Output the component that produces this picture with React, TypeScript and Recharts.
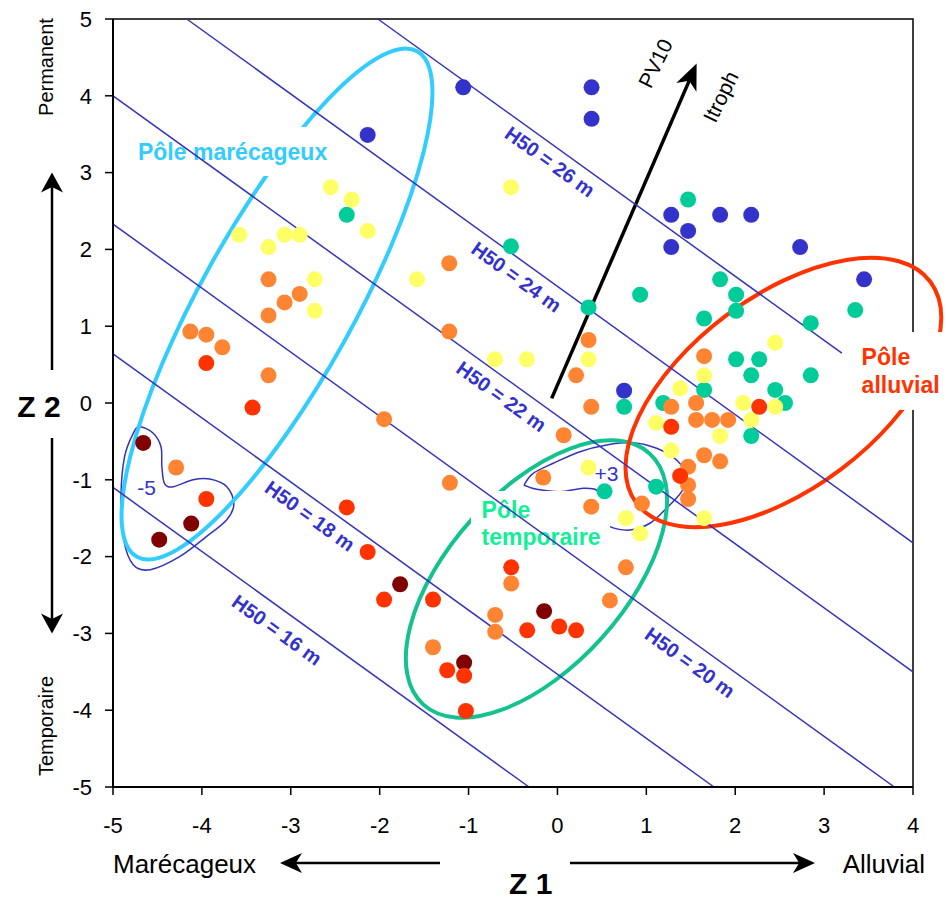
import * as RC from 'recharts';

const { ScatterChart, Scatter, XAxis, YAxis, ReferenceLine, Customized } = RC;

const FONT = '"Liberation Sans", Arial, Helvetica, sans-serif';
const W = 947;
const H = 904;
const MARGIN = { top: 19, right: 34, left: 0, bottom: 0 };
const Y_AXIS_W = 113;
const X_AXIS_H = 117;

const X_DOMAIN: [number, number] = [-5, 4];
const Y_DOMAIN: [number, number] = [-5, 5];
const xTicks = [-5, -4, -3, -2, -1, 0, 1, 2, 3, 4];
const yTicks = [-5, -4, -3, -2, -1, 0, 1, 2, 3, 4, 5];

const LINE_BLUE = '#3333BB';
const DOT_BLUE = '#3333CC';
const DOT_GREEN = '#00CC99';
const DOT_YELLOW = '#FFFF66';
const DOT_ORANGE = '#FF8533';
const DOT_RED = '#FF3300';
const DOT_DARKRED = '#800000';

const sitesBlue = [
  { x: -1.06, y: 4.11 }, { x: -2.135, y: 3.49 }, { x: 0.384, y: 4.11 }, { x: 0.384, y: 3.7 },
  { x: 1.28, y: 2.45 }, { x: 1.83, y: 2.45 }, { x: 2.18, y: 2.45 }, { x: 1.47, y: 2.24 },
  { x: 1.28, y: 2.03 }, { x: 2.73, y: 2.03 }, { x: 3.45, y: 1.61 }, { x: 0.75, y: 0.16 },
];
const sitesGreen = [
  { x: -2.37, y: 2.45 }, { x: -0.523, y: 2.04 }, { x: 1.47, y: 2.65 }, { x: 1.83, y: 1.61 },
  { x: 2.01, y: 1.41 }, { x: 0.93, y: 1.41 }, { x: 0.35, y: 1.245 }, { x: 2.01, y: 1.2 },
  { x: 1.65, y: 1.1 }, { x: 2.85, y: 1.04 }, { x: 3.35, y: 1.21 }, { x: 2.01, y: 0.57 },
  { x: 2.27, y: 0.57 }, { x: 2.18, y: 0.36 }, { x: 2.85, y: 0.36 }, { x: 1.65, y: 0.17 },
  { x: 2.45, y: 0.17 }, { x: 0.75, y: -0.05 }, { x: 2.56, y: 0.0 }, { x: 1.19, y: 0.0 },
  { x: 2.18, y: -0.43 }, { x: 1.11, y: -1.09 }, { x: 0.53, y: -1.15 },
];
const sitesYellow = [
  { x: -2.55, y: 2.81 }, { x: -2.315, y: 2.65 }, { x: -2.135, y: 2.24 }, { x: -3.58, y: 2.19 },
  { x: -3.07, y: 2.19 }, { x: -2.9, y: 2.19 }, { x: -3.25, y: 2.03 }, { x: -0.523, y: 2.81 },
  { x: -1.58, y: 1.61 }, { x: -2.73, y: 1.61 }, { x: -2.73, y: 1.2 }, { x: -0.703, y: 0.57 },
  { x: -0.345, y: 0.57 }, { x: 0.35, y: 0.57 }, { x: 2.45, y: 0.785 }, { x: 1.65, y: 0.36 },
  { x: 1.38, y: 0.19 }, { x: 2.09, y: 0.0 }, { x: 2.45, y: -0.05 }, { x: 1.11, y: -0.26 },
  { x: 2.18, y: -0.22 }, { x: 1.83, y: -0.43 }, { x: 1.28, y: -0.62 }, { x: 1.65, y: -1.5 },
  { x: 0.77, y: -1.5 }, { x: 0.93, y: -1.7 }, { x: 0.35, y: -0.84 },
];
const sitesOrange = [
  { x: -1.217, y: 1.82 }, { x: -3.25, y: 1.61 }, { x: -2.9, y: 1.42 }, { x: -3.07, y: 1.31 },
  { x: -3.25, y: 1.14 }, { x: -1.217, y: 0.93 }, { x: -4.13, y: 0.93 }, { x: -3.95, y: 0.89 },
  { x: -3.77, y: 0.725 }, { x: -3.25, y: 0.36 }, { x: 0.35, y: 0.82 }, { x: 0.21, y: 0.36 },
  { x: 1.65, y: 0.61 }, { x: 1.28, y: -0.05 }, { x: 1.56, y: 0.0 }, { x: 1.56, y: -0.22 },
  { x: 1.74, y: -0.22 }, { x: 1.92, y: -0.22 }, { x: 1.65, y: -0.68 }, { x: 1.83, y: -0.76 },
  { x: 1.47, y: -0.83 }, { x: 1.47, y: -1.07 }, { x: 1.47, y: -1.25 }, { x: 0.95, y: -1.31 },
  { x: 0.38, y: -0.05 }, { x: 0.07, y: -0.42 }, { x: -0.16, y: -0.97 }, { x: 0.38, y: -1.35 },
  { x: -0.52, y: -2.35 }, { x: 0.77, y: -2.14 }, { x: 0.59, y: -2.57 }, { x: -1.95, y: -0.21 },
  { x: -1.21, y: -1.04 }, { x: -4.29, y: -0.84 }, { x: -0.7, y: -2.76 }, { x: -0.7, y: -2.98 },
  { x: -1.4, y: -3.18 },
];
const sitesDarkRed = [
  { x: -4.66, y: -0.52 }, { x: -4.12, y: -1.57 }, { x: -4.48, y: -1.78 },
  { x: -1.77, y: -2.36 }, { x: -0.15, y: -2.71 }, { x: -1.05, y: -3.38 },
];
const sitesRed = [
  { x: -3.95, y: 0.52 }, { x: 2.27, y: -0.05 }, { x: 1.28, y: -0.31 }, { x: 1.38, y: -0.95 },
  { x: -0.52, y: -2.14 }, { x: -0.34, y: -2.96 }, { x: 0.02, y: -2.91 }, { x: 0.21, y: -2.96 },
  { x: -3.43, y: -0.06 }, { x: -3.95, y: -1.25 }, { x: -2.37, y: -1.36 }, { x: -2.135, y: -1.94 },
  { x: -1.95, y: -2.56 }, { x: -1.4, y: -2.56 }, { x: -1.24, y: -3.48 }, { x: -1.05, y: -3.55 },
  { x: -1.03, y: -4.01 },
];

// H50 isolines (start / end in Z1,Z2 units) and their labels
const isoLabels = ['H50 = 26 m', 'H50 = 24 m', 'H50 = 22 m', 'H50 = 20 m', 'H50 = 18 m', 'H50 = 16 m'];
const isoStart = [
  { x: -2.02, y: 5 }, { x: -4.17, y: 5 }, { x: -5, y: 4.0 },
  { x: -5, y: 2.33 }, { x: -5, y: 0.64 }, { x: -5, y: -1.1 },
];
const isoEnd = [
  { x: 3.2, y: 0.65 }, { x: 4, y: -1.82 }, { x: 4, y: -3.5 },
  { x: 3.79, y: -5 }, { x: 1.76, y: -5 }, { x: -0.32, y: -5 },
];
const isoLabelAt = [
  { x: -0.084, y: 3.142 }, { x: -0.461, y: 1.641 }, { x: -0.63, y: 0.085 },
  { x: 1.49, y: -3.379 }, { x: -2.784, y: -1.471 }, { x: -3.155, y: -2.956 },
];

// contours drawn around the -5 and +3 groups
const contourMinus5 = [
  [-4.7, -0.31], [-4.55, -0.39], [-4.46, -0.57], [-4.45, -0.83], [-4.42, -1.05], [-4.32, -1.09],
  [-4.1, -1.0], [-3.91, -0.99], [-3.72, -1.09], [-3.64, -1.31], [-3.72, -1.52], [-3.95, -1.74],
  [-4.25, -2.0], [-4.58, -2.17], [-4.77, -2.11], [-4.88, -1.78], [-4.91, -1.22], [-4.87, -0.7],
  [-4.77, -0.39],
];
const contourPlus3 = [
  [-0.366, -1.05], [-0.272, -0.915], [-0.047, -0.785], [0.253, -0.634], [0.553, -0.547],
  [0.853, -0.517], [1.116, -0.59], [1.341, -0.742], [1.453, -0.96], [1.397, -1.155],
  [1.228, -1.37], [1.04, -1.566], [0.816, -1.654], [0.59, -1.61], [0.515, -1.48],
  [0.497, -1.263], [0.44, -1.133], [0.29, -1.11], [0.028, -1.155], [-0.234, -1.124],
  [-0.354, -1.08],
];

const poles = [
  { lines: ['Pôle marécageux'], color: '#33CCFF', ring: '#33CCFF', cx: -3.155, cy: 1.289, rx: 289, ry: 77, angle: -61,
    box: [-4.92, 3.594, -2.28, 2.956], textX: -4.719, baselines: [3.164] },
  { lines: ['Pôle', 'temporaire'], color: '#10F096', ring: '#14C28F', cx: -0.236, cy: -2.292, rx: 169, ry: 88, angle: -48,
    box: [-0.973, -1.146, 0.591, -2.044], textX: -0.853, baselines: [-1.497, -1.855] },
  { lines: ['Pôle', 'alluvial'], color: '#FF3300', ring: '#FF3300', cx: 2.542, cy: 0.137, rx: 184, ry: 96, angle: -37,
    box: [3.178, 0.924, 4.45, -0.09], textX: 3.422, baselines: [0.495, 0.13] },
];

const gradientFrom = { x: -0.065, y: 0.06 };
const gradientTo = { x: 1.566, y: 4.42 };

const FALLBACK_AREA = {
  x: MARGIN.left + Y_AXIS_W,
  y: MARGIN.top,
  width: W - MARGIN.left - MARGIN.right - Y_AXIS_W,
  height: H - MARGIN.top - MARGIN.bottom - X_AXIS_H,
};
const usePlotAreaSafe: () => any = (RC as any).usePlotArea || (() => null);

function smoothClosed(pts: number[][]) {
  const n = pts.length;
  let d = `M${pts[0][0]},${pts[0][1]}`;
  for (let i = 0; i < n; i++) {
    const p0 = pts[(i - 1 + n) % n];
    const p1 = pts[i];
    const p2 = pts[(i + 1) % n];
    const p3 = pts[(i + 2) % n];
    const c1 = [p1[0] + (p2[0] - p0[0]) / 6, p1[1] + (p2[1] - p0[1]) / 6];
    const c2 = [p2[0] - (p3[0] - p1[0]) / 6, p2[1] - (p3[1] - p1[1]) / 6];
    d += ` C${c1[0]},${c1[1]} ${c2[0]},${c2[1]} ${p2[0]},${p2[1]}`;
  }
  return d + ' Z';
}

// stealth style arrow head, tip at (tx,ty), pointing away from (fx,fy)
function headPoints(fx: number, fy: number, tx: number, ty: number, len: number, half: number) {
  const dx = tx - fx;
  const dy = ty - fy;
  const l = Math.hypot(dx, dy);
  const ux = dx / l;
  const uy = dy / l;
  const bx = tx - ux * len;
  const by = ty - uy * len;
  const nx = tx - ux * len * 0.72;
  const ny = ty - uy * len * 0.72;
  return `${tx},${ty} ${bx - uy * half},${by + ux * half} ${nx},${ny} ${bx + uy * half},${by - ux * half}`;
}

function Arrow({ x1, y1, x2, y2, width = 2.5, len = 20, half = 9 }: any) {
  const l = Math.hypot(x2 - x1, y2 - y1);
  const ex = x2 - ((x2 - x1) / l) * len * 0.6;
  const ey = y2 - ((y2 - y1) / l) * len * 0.6;
  return (
    <g>
      <line x1={x1} y1={y1} x2={ex} y2={ey} stroke="#000" strokeWidth={width} />
      <polygon points={headPoints(x1, y1, x2, y2, len, half)} fill="#000" />
    </g>
  );
}

function Annotations() {
  const area = usePlotAreaSafe() || FALLBACK_AREA;
  const px = (v: number) => area.x + ((v - X_DOMAIN[0]) / (X_DOMAIN[1] - X_DOMAIN[0])) * area.width;
  const py = (v: number) => area.y + ((Y_DOMAIN[1] - v) / (Y_DOMAIN[1] - Y_DOMAIN[0])) * area.height;
  const right = area.x + area.width;
  const bottom = area.y + area.height;
  const left = area.x;
  const top = area.y;

  return (
    <g fontFamily={FONT}>
      {/* frame top/right */}
      <polyline points={`${left},${top} ${right},${top} ${right},${bottom}`} fill="none" stroke="#000" strokeWidth={1.5} />

      {/* iso labels */}
      {isoLabels.map((t, i) => {
        const ang = (Math.atan2(py(isoEnd[i].y) - py(isoStart[i].y), px(isoEnd[i].x) - px(isoStart[i].x)) * 180) / Math.PI;
        const cx = px(isoLabelAt[i].x);
        const cy = py(isoLabelAt[i].y);
        return (
          <text key={t} x={cx} y={cy} dy="0.35em" textAnchor="middle" fontSize={20} fontWeight="bold" fill={DOT_BLUE}
            transform={`rotate(${ang} ${cx} ${cy})`}>
            {t}
          </text>
        );
      })}

      {/* contours */}
      <path d={smoothClosed(contourMinus5.map(p => [px(p[0]), py(p[1])]))} fill="none" stroke={LINE_BLUE} strokeWidth={1.5} />
      <path d={smoothClosed(contourPlus3.map(p => [px(p[0]), py(p[1])]))} fill="none" stroke={LINE_BLUE} strokeWidth={1.5} />
      <text x={px(-4.623)} y={py(-1.1)} dy="0.35em" textAnchor="middle" fontSize={21} fill={DOT_BLUE}>-5</text>
      <text x={px(0.551)} y={py(-0.924)} dy="0.35em" textAnchor="middle" fontSize={21} fill={DOT_BLUE}>+3</text>

      {/* poles */}
      {poles.map(p => (
        <ellipse key={p.lines[0] + p.cx} cx={px(p.cx)} cy={py(p.cy)} rx={p.rx} ry={p.ry} fill="none" stroke={p.ring}
          strokeWidth={4} transform={`rotate(${p.angle} ${px(p.cx)} ${py(p.cy)})`} />
      ))}
      {poles.map(p => (
        <g key={'lbl' + p.cx}>
          <rect x={px(p.box[0])} y={py(p.box[1])} width={px(p.box[2]) - px(p.box[0])} height={py(p.box[3]) - py(p.box[1])} fill="#fff" />
          {p.lines.map((ln, j) => (
            <text key={ln} x={px(p.textX)} y={py(p.baselines[j])} fontSize={23} fontWeight="bold" fill={p.color}>{ln}</text>
          ))}
        </g>
      ))}

      {/* gradient arrow */}
      <Arrow x1={px(gradientFrom.x)} y1={py(gradientFrom.y)} x2={px(gradientTo.x)} y2={py(gradientTo.y)} width={3.5} len={26} half={11} />
      <text x={px(1.103)} y={py(4.423)} dy="0.35em" textAnchor="middle" fontSize={21} fill="#000"
        transform={`rotate(-64 ${px(1.103)} ${py(4.423)})`}>PV10</text>
      <text x={px(1.836)} y={py(3.988)} dy="0.35em" textAnchor="middle" fontSize={21} fill="#000"
        transform={`rotate(-64 ${px(1.836)} ${py(3.988)})`}>Itroph</text>

      {/* Z2 axis title */}
      <text x={left - 74} y={py(0) + 3} dy="0.35em" textAnchor="middle" fontSize={30} fontWeight="bold" fill="#000">Z 2</text>
      <Arrow x1={left - 61} y1={py(0) - 33} x2={left - 61} y2={py(3)} width={2.5} len={20} half={11} />
      <Arrow x1={left - 61} y1={py(0) + 35} x2={left - 61} y2={py(-3)} width={2.5} len={20} half={11} />
      <text x={left - 60} y={67} textAnchor="middle" fontSize={20} fill="#000" transform={`rotate(-90 ${left - 60} 67)`}>Permanent</text>
      <text x={left - 60} y={726} textAnchor="middle" fontSize={20} fill="#000" transform={`rotate(-90 ${left - 60} 726)`}>Temporaire</text>

      {/* Z1 axis title */}
      <text x={left} y={bottom + 86} fontSize={26} fill="#000">Marécageux</text>
      <Arrow x1={left + 327} y1={bottom + 76} x2={left + 167} y2={bottom + 76} width={2.5} len={22} half={10} />
      <text x={px(-0.3)} y={bottom + 107} textAnchor="middle" fontSize={30} fontWeight="bold" fill="#000">Z 1</text>
      <Arrow x1={left + 457} y1={bottom + 76} x2={left + 702} y2={bottom + 76} width={2.5} len={22} half={10} />
      <text x={right + 12} y={bottom + 86} textAnchor="end" fontSize={26} fill="#000">Alluvial</text>
    </g>
  );
}

const dot = (color: string) => (props: any) => <circle cx={props.cx} cy={props.cy} r={8} fill={color} />;

export default function App() {
  return (
    <div style={{ position: 'absolute', left: 0, top: 0, width: W, height: H, background: '#fff' }}>
      <ScatterChart width={W} height={H} margin={MARGIN}>
        <XAxis
          type="number"
          dataKey="x"
          domain={X_DOMAIN}
          ticks={xTicks}
          interval={0}
          allowDataOverflow
          height={X_AXIS_H}
          tickSize={8}
          tickMargin={22}
          axisLine={{ stroke: '#000', strokeWidth: 2 }}
          tickLine={{ stroke: '#000', strokeWidth: 1.5 }}
          tick={{ fontSize: 22, fill: '#000', fontFamily: FONT }}
        />
        <YAxis
          type="number"
          dataKey="y"
          domain={Y_DOMAIN}
          ticks={yTicks}
          interval={0}
          allowDataOverflow
          width={Y_AXIS_W}
          tickSize={8}
          tickMargin={13}
          axisLine={{ stroke: '#000', strokeWidth: 2 }}
          tickLine={{ stroke: '#000', strokeWidth: 1.5 }}
          tick={{ fontSize: 22, fill: '#000', fontFamily: FONT }}
        />
        {isoStart.map((s, i) => (
          <ReferenceLine key={isoLabels[i]} segment={[s, isoEnd[i]]} stroke={LINE_BLUE} strokeWidth={1.5} />
        ))}
        <Customized component={Annotations} />
        <Scatter name="bleu" data={sitesBlue} shape={dot(DOT_BLUE)} isAnimationActive={false} />
        <Scatter name="vert" data={sitesGreen} shape={dot(DOT_GREEN)} isAnimationActive={false} />
        <Scatter name="jaune" data={sitesYellow} shape={dot(DOT_YELLOW)} isAnimationActive={false} />
        <Scatter name="orange" data={sitesOrange} shape={dot(DOT_ORANGE)} isAnimationActive={false} />
        <Scatter name="bordeaux" data={sitesDarkRed} shape={dot(DOT_DARKRED)} isAnimationActive={false} />
        <Scatter name="rouge" data={sitesRed} shape={dot(DOT_RED)} isAnimationActive={false} />
      </ScatterChart>
    </div>
  );
}
